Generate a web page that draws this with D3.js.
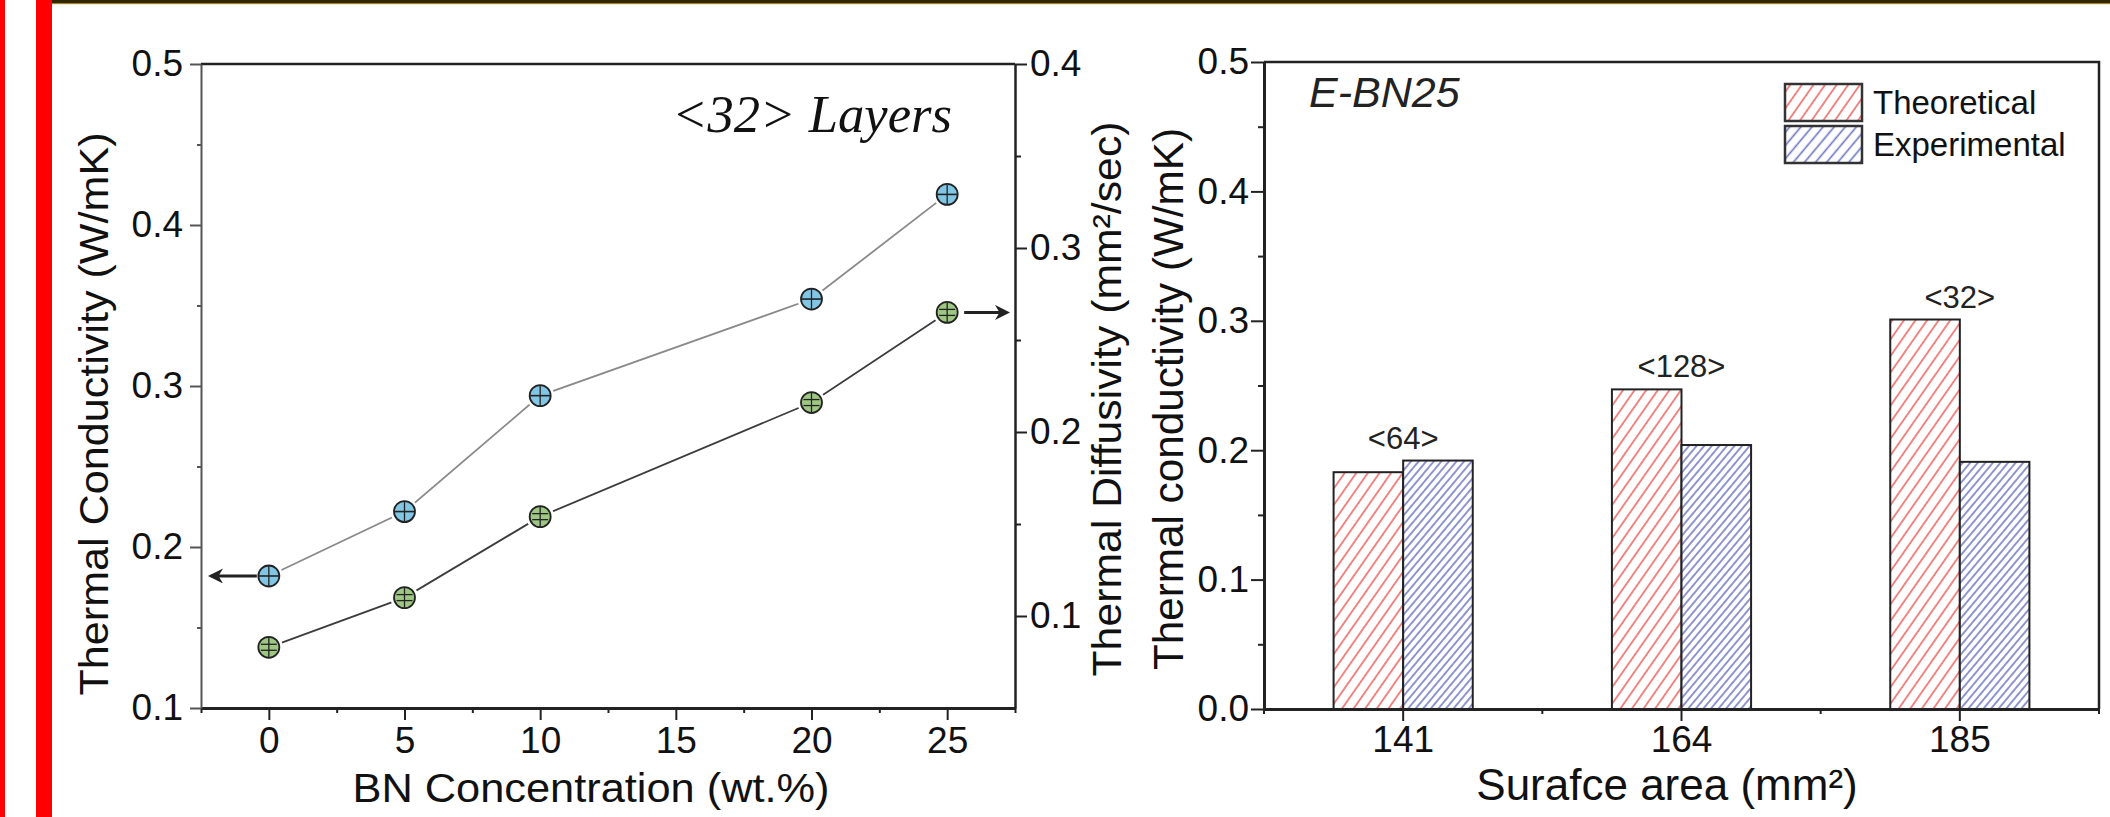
<!DOCTYPE html>
<html>
<head>
<meta charset="utf-8">
<script src="https://cdn.jsdelivr.net/npm/d3@7"></script>
<style>
  body { margin: 0; background: #fff; }
  svg { display: block; font-family: 'Liberation Sans', Arial, sans-serif; }
  .axis text { font-family: 'Liberation Sans', Arial, sans-serif; font-size: 37px; fill: #111; }
  .axis line { stroke: #222; stroke-width: 2; }
  .axis path { stroke: #222; stroke-width: 2.5; }
  .title { fill: #111; }
</style>
</head>
<body>
<svg id="chart" width="2110" height="817"></svg>
<script>
// left panel: <32> layers vs BN loading
const concentration = [0, 5, 10, 20, 25];
const conductivity = [0.182, 0.222, 0.294, 0.354, 0.419];
const diffusivity = [0.083, 0.110, 0.154, 0.216, 0.265];
const concTicks = [0, 5, 10, 15, 20, 25];
const condTicks = [0.1, 0.2, 0.3, 0.4, 0.5];
const diffTicks = [0.1, 0.2, 0.3, 0.4];

// right panel: E-BN25 theoretical vs experimental
const surface = ['141', '164', '185'];
const layers = ['<64>', '<128>', '<32>'];
const series = ['Theoretical', 'Experimental'];
const theoretical = [0.183, 0.247, 0.301];
const experimental = [0.192, 0.204, 0.191];
const barTicks = [0, 0.1, 0.2, 0.3, 0.4, 0.5];

const svg = d3.select('#chart');
const defs = svg.append('defs');

// page decoration (slide borders)
svg.append('rect').attr('x', 0).attr('y', 0).attr('width', 2110).attr('height', 817).attr('fill', '#fff');
svg.append('rect').attr('x', 52).attr('y', 0).attr('width', 2058).attr('height', 3).attr('fill', '#2e2604');
svg.append('rect').attr('x', 52).attr('y', 3).attr('width', 2058).attr('height', 1.2).attr('fill', '#a8861e');
svg.append('rect').attr('x', 0).attr('y', 0).attr('width', 5).attr('height', 817).attr('fill', '#ff0000');
svg.append('rect').attr('x', 36).attr('y', 0).attr('width', 16).attr('height', 817).attr('fill', '#ff0000');

// hatch patterns
function hatch(id, color, gap, angle, sw) {
  const p = defs.append('pattern')
    .attr('id', id)
    .attr('patternUnits', 'userSpaceOnUse')
    .attr('width', gap).attr('height', gap)
    .attr('patternTransform', `rotate(${angle})`);
  p.append('rect').attr('width', gap).attr('height', gap).attr('fill', '#fff');
  p.append('line').attr('x1', gap / 2).attr('x2', gap / 2).attr('y1', 0).attr('y2', gap)
    .attr('stroke', color).attr('stroke-width', sw);
}
hatch('hatch-theo', '#f27b78', 9.5, 35, 1.8);
hatch('hatch-exp', '#6c74c0', 5.8, 40, 1.5);
hatch('hatch-exp-legend', '#6c74c0', 8.5, 40, 1.6);

defs.append('marker')
  .attr('id', 'arrow')
  .attr('viewBox', '0 0 10 10')
  .attr('refX', 8).attr('refY', 5)
  .attr('markerWidth', 5).attr('markerHeight', 5)
  .attr('orient', 'auto')
  .append('path')
  .attr('d', 'M0,0 L10,5 L0,10 L3,5 z')
  .attr('fill', '#222');

const dropDomain = g => g.select('.domain').remove();

// ---------- left panel ----------
const x1 = d3.scaleLinear().domain([-2.5, 27.5]).range([201, 1015]);
const yCond = d3.scaleLinear().domain([0.1, 0.5]).range([708, 64]);
const yDiff = d3.scaleLinear().domain([0.05, 0.4]).range([708, 64]);
const left = svg.append('g');

left.append('line')
  .attr('x1', x1.range()[0]).attr('x2', x1.range()[1])
  .attr('y1', yCond.range()[1]).attr('y2', yCond.range()[1])
  .attr('stroke', '#222').attr('stroke-width', 2.5);

// bottom axis
left.append('g').attr('class', 'axis')
  .attr('transform', `translate(0,${yCond.range()[0]})`)
  .call(d3.axisBottom(x1).tickValues(d3.range(-2.5, 28, 5)).tickSize(5).tickFormat(''))
  .call(dropDomain);
left.append('g').attr('class', 'axis')
  .attr('transform', `translate(0,${yCond.range()[0]})`)
  .call(d3.axisBottom(x1).tickValues(concTicks).tickSize(12).tickSizeOuter(0).tickPadding(7).tickFormat(d3.format('d')))
  .call(g => g.select('.domain').style('stroke-width', 3));

// left axis
left.append('g').attr('class', 'axis')
  .attr('transform', `translate(${x1.range()[0]},0)`)
  .call(d3.axisLeft(yCond).tickValues([0.15, 0.25, 0.35, 0.45]).tickSize(4).tickFormat(''))
  .call(dropDomain)
  .call(g => g.selectAll('line').style('stroke', '#555'));
left.append('g').attr('class', 'axis')
  .attr('transform', `translate(${x1.range()[0]},0)`)
  .call(d3.axisLeft(yCond).tickValues(condTicks).tickSize(11).tickSizeOuter(0).tickPadding(7).tickFormat(d3.format('.1f')))
  .call(g => g.select('.domain').style('stroke', '#555').style('stroke-width', 2))
  .call(g => g.selectAll('line').style('stroke', '#555'));

// right axis (diffusivity)
left.append('g').attr('class', 'axis')
  .attr('transform', `translate(${x1.range()[1]},0)`)
  .call(d3.axisRight(yDiff).tickValues([0.15, 0.25, 0.35]).tickSize(6).tickFormat(''))
  .call(dropDomain);
left.append('g').attr('class', 'axis')
  .attr('transform', `translate(${x1.range()[1]},0)`)
  .call(d3.axisRight(yDiff).tickValues(diffTicks).tickSize(12).tickSizeOuter(0).tickPadding(3).tickFormat(d3.format('.1f')));

// series lines
const pts = vals => concentration.map((c, i) => ({ c, v: vals[i] }));
const condPts = pts(conductivity);
const diffPts = pts(diffusivity);

left.append('path')
  .datum(condPts)
  .attr('fill', 'none')
  .attr('stroke', '#8a8a8a')
  .attr('stroke-width', 1.8)
  .attr('d', d3.line().x(d => x1(d.c)).y(d => yCond(d.v)));

left.append('path')
  .datum(diffPts)
  .attr('fill', 'none')
  .attr('stroke', '#3c3c3c')
  .attr('stroke-width', 1.8)
  .attr('d', d3.line().x(d => x1(d.c)).y(d => yDiff(d.v)));

// markers with small error bars inside
function markers(data, y, fill, green) {
  const m = left.append('g').selectAll('g')
    .data(data)
    .join('g')
    .attr('transform', d => `translate(${x1(d.c)},${y(d.v)})`);
  m.append('circle').attr('r', 14).attr('fill', '#fff');
  m.append('circle').attr('r', 10.5).attr('fill', fill).attr('stroke', '#222').attr('stroke-width', 1.8);
  m.append('line').attr('y1', -10).attr('y2', 10).attr('stroke', '#222').attr('stroke-width', 1.3);
  if (green) {
    m.append('line').attr('x1', -8).attr('x2', 8).attr('y1', -3).attr('y2', -3).attr('stroke', '#222').attr('stroke-width', 1.3);
    m.append('line').attr('x1', -8).attr('x2', 8).attr('y1', 3).attr('y2', 3).attr('stroke', '#222').attr('stroke-width', 1.3);
  } else {
    m.append('line').attr('x1', -10).attr('x2', 10).attr('stroke', '#222').attr('stroke-width', 1.6);
  }
}
markers(condPts, yCond, '#82c6e6', false);
markers(diffPts, yDiff, '#9dc783', true);

// arrows pointing to each axis
left.append('line')
  .attr('x1', x1(concentration[0]) - 12).attr('x2', x1(-2.5) + 10)
  .attr('y1', yCond(conductivity[0])).attr('y2', yCond(conductivity[0]))
  .attr('stroke', '#222').attr('stroke-width', 3)
  .attr('marker-end', 'url(#arrow)');
left.append('line')
  .attr('x1', x1(concentration[4]) + 17).attr('x2', x1(27.5) - 8)
  .attr('y1', yDiff(diffusivity[4])).attr('y2', yDiff(diffusivity[4]))
  .attr('stroke', '#222').attr('stroke-width', 3)
  .attr('marker-end', 'url(#arrow)');

// titles
left.append('text')
  .attr('class', 'title')
  .attr('transform', 'translate(108,414) rotate(-90)')
  .attr('text-anchor', 'middle')
  .attr('font-size', 40)
  .attr('textLength', 563).attr('lengthAdjust', 'spacingAndGlyphs')
  .text('Thermal Conductivity (W/mK)');

left.append('text')
  .attr('class', 'title')
  .attr('transform', 'translate(1121,399) rotate(-90)')
  .attr('text-anchor', 'middle')
  .attr('font-size', 40)
  .attr('textLength', 555).attr('lengthAdjust', 'spacingAndGlyphs')
  .text('Thermal Diffusivity (mm²/sec)');

left.append('text')
  .attr('class', 'title')
  .attr('x', 591).attr('y', 802)
  .attr('text-anchor', 'middle')
  .attr('font-size', 40)
  .attr('textLength', 477).attr('lengthAdjust', 'spacingAndGlyphs')
  .text('BN Concentration (wt.%)');

left.append('text')
  .attr('x', 672).attr('y', 132)
  .attr('font-family', "'Liberation Serif', 'Times New Roman', serif")
  .attr('font-style', 'italic')
  .attr('font-size', 52)
  .attr('fill', '#111')
  .attr('textLength', 280).attr('lengthAdjust', 'spacingAndGlyphs')
  .text('<32> Layers');

// ---------- right panel ----------
const x2 = d3.scaleBand().domain(surface).range([1264, 2099]);
const xs = d3.scaleBand().domain(series).range([x2.bandwidth() / 4, x2.bandwidth() * 3 / 4]);
const y2 = d3.scaleLinear().domain([0, 0.5]).range([709, 62]);
const right = svg.append('g');

// frame top and right
right.append('path')
  .attr('d', `M${x2.range()[0]},${y2.range()[1]}H${x2.range()[1]}V${y2.range()[0]}`)
  .attr('fill', 'none')
  .attr('stroke', '#222')
  .attr('stroke-width', 2.5);

const groups = surface.map((s, i) => ({ s, label: layers[i], Theoretical: theoretical[i], Experimental: experimental[i] }));
const bars = groups.flatMap(g => series.map(k => ({ s: g.s, k, v: g[k] })));

right.append('g').selectAll('rect')
  .data(bars)
  .join('rect')
  .attr('x', d => x2(d.s) + xs(d.k))
  .attr('y', d => y2(d.v))
  .attr('width', xs.bandwidth())
  .attr('height', d => y2(0) - y2(d.v))
  .attr('fill', d => d.k === 'Theoretical' ? 'url(#hatch-theo)' : 'url(#hatch-exp)')
  .attr('stroke', '#222')
  .attr('stroke-width', 2);

right.append('g').selectAll('text')
  .data(groups)
  .join('text')
  .attr('x', d => x2(d.s) + x2.bandwidth() / 2)
  .attr('y', d => y2(Math.max(d.Theoretical, d.Experimental)) - 12)
  .attr('text-anchor', 'middle')
  .attr('font-size', 31)
  .attr('fill', '#222')
  .text(d => d.label);

// x axis with minor ticks on the band edges
right.append('g').attr('class', 'axis')
  .attr('transform', `translate(0,${y2.range()[0]})`)
  .call(d3.axisBottom(x2).tickSize(12).tickSizeOuter(0).tickPadding(5))
  .call(g => g.select('.domain').style('stroke-width', 3));
right.append('g')
  .selectAll('line')
  .data(surface.map(s => x2(s)).concat(x2.range()[1]))
  .join('line')
  .attr('x1', d => d).attr('x2', d => d)
  .attr('y1', y2.range()[0]).attr('y2', y2.range()[0] + 5)
  .attr('stroke', '#222').attr('stroke-width', 2);

// y axis
right.append('g').attr('class', 'axis')
  .attr('transform', `translate(${x2.range()[0]},0)`)
  .call(d3.axisLeft(y2).tickValues(d3.range(0.05, 0.5, 0.1)).tickSize(6).tickFormat(''))
  .call(dropDomain);
right.append('g').attr('class', 'axis')
  .attr('transform', `translate(${x2.range()[0]},0)`)
  .call(d3.axisLeft(y2).tickValues(barTicks).tickSize(13).tickSizeOuter(0).tickPadding(2).tickFormat(d3.format('.1f')))
  .call(g => g.select('.domain').style('stroke-width', 3));

right.append('text')
  .attr('class', 'title')
  .attr('transform', 'translate(1183,399) rotate(-90)')
  .attr('text-anchor', 'middle')
  .attr('font-size', 43)
  .attr('textLength', 542).attr('lengthAdjust', 'spacingAndGlyphs')
  .text('Thermal conductivity (W/mK)');

right.append('text')
  .attr('class', 'title')
  .attr('x', 1667).attr('y', 800)
  .attr('text-anchor', 'middle')
  .attr('font-size', 44)
  .text('Surafce area (mm²)');

right.append('text')
  .attr('x', 1309).attr('y', 107)
  .attr('font-style', 'italic')
  .attr('font-size', 43)
  .attr('fill', '#222')
  .text('E-BN25');

// legend
const legend = right.append('g')
  .selectAll('g')
  .data(series)
  .join('g')
  .attr('transform', (d, i) => `translate(1785,${84 + i * 42})`);
legend.append('rect')
  .attr('width', 77).attr('height', 37)
  .attr('fill', d => d === 'Theoretical' ? 'url(#hatch-theo)' : 'url(#hatch-exp-legend)')
  .attr('stroke', '#333').attr('stroke-width', 2.5);
legend.append('text')
  .attr('x', 88).attr('y', 30)
  .attr('font-size', 33)
  .attr('fill', '#111')
  .text(d => d);
</script>
</body>
</html>
